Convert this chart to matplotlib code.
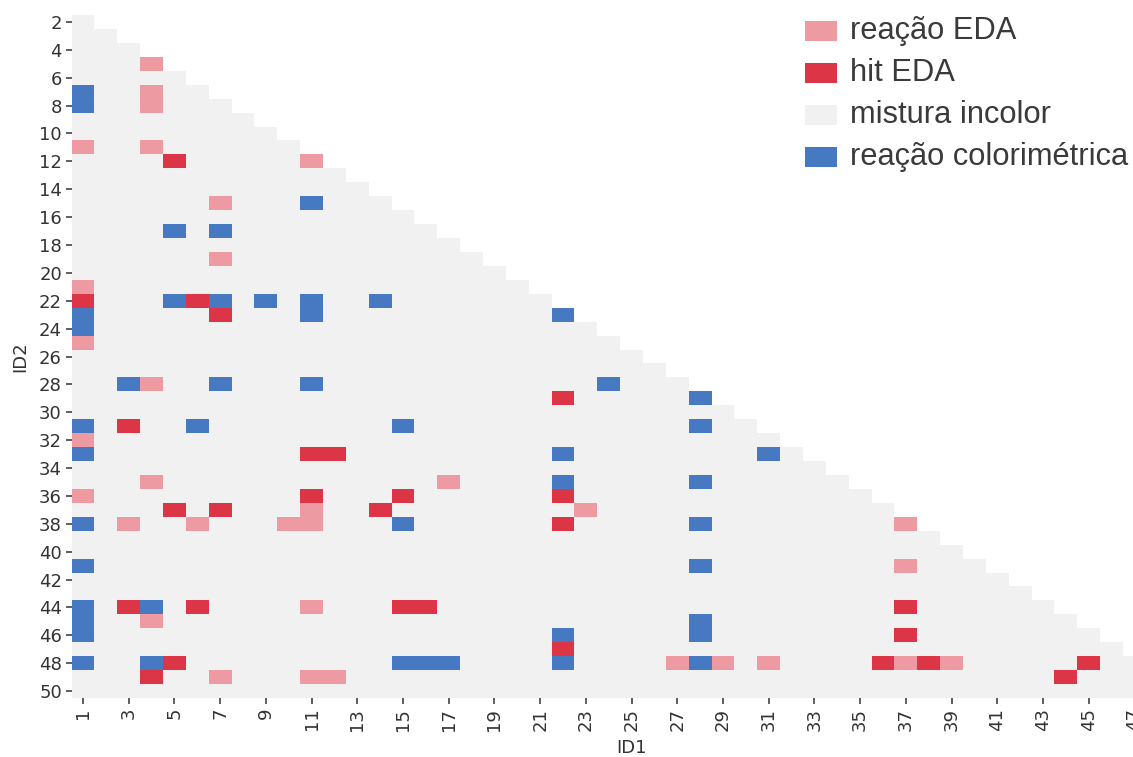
import numpy as np
import matplotlib
matplotlib.use("Agg")
import matplotlib.pyplot as plt
from matplotlib.colors import ListedColormap, BoundaryNorm
from matplotlib.patches import Rectangle

# Compound identifiers on each axis
id1 = np.arange(1, 50)   # columns (ID1)
id2 = np.arange(2, 51)   # rows (ID2)

# Pairs (ID1, ID2) per outcome of the mixture test
eda_reaction = [(4, 5), (4, 7), (4, 8), (1, 11), (4, 11), (11, 12), (7, 15), (7, 19),
                (1, 21), (1, 25), (4, 28), (1, 32), (4, 35), (17, 35), (1, 36), (11, 37),
                (23, 37), (3, 38), (6, 38), (10, 38), (11, 38), (37, 38), (37, 41),
                (11, 44), (4, 45), (27, 48), (29, 48), (31, 48), (37, 48), (39, 48),
                (7, 49), (11, 49), (12, 49)]
eda_hit = [(5, 12), (1, 22), (6, 22), (7, 23), (22, 29), (3, 31), (11, 33), (12, 33),
           (11, 36), (15, 36), (22, 36), (5, 37), (7, 37), (14, 37), (22, 38), (3, 44),
           (6, 44), (15, 44), (16, 44), (37, 44), (37, 46), (22, 47), (5, 48), (36, 48),
           (38, 48), (45, 48), (4, 49), (44, 49)]
colorimetric = [(1, 7), (1, 8), (11, 15), (5, 17), (7, 17), (5, 22), (7, 22), (9, 22),
                (11, 22), (14, 22), (1, 23), (11, 23), (22, 23), (1, 24), (3, 28), (7, 28),
                (11, 28), (24, 28), (28, 29), (1, 31), (6, 31), (15, 31), (28, 31), (1, 33),
                (22, 33), (31, 33), (22, 35), (28, 35), (1, 38), (15, 38), (28, 38), (1, 41),
                (28, 41), (1, 44), (4, 44), (1, 45), (28, 45), (1, 46), (22, 46), (28, 46),
                (1, 48), (4, 48), (15, 48), (16, 48), (17, 48), (22, 48), (28, 48)]

legend_labels = ["reação EDA", "hit EDA", "mistura incolor", "reação colorimétrica"]
legend_colors = ["#ED9AA2", "#DC3545", "#F1F1F1", "#4679C2"]

# Category codes: 0 colourless, 1 EDA reaction, 2 EDA hit, 3 colorimetric
grid = np.zeros((len(id2), len(id1)))
for code, pairs in ((1, eda_reaction), (2, eda_hit), (3, colorimetric)):
    for a, b in pairs:
        grid[b - id2[0], a - id1[0]] = code
mask = id1[None, :] >= id2[:, None]
data = np.ma.masked_array(grid, mask)

cmap = ListedColormap([legend_colors[2], legend_colors[0], legend_colors[1], legend_colors[3]])
norm = BoundaryNorm([-0.5, 0.5, 1.5, 2.5, 3.5], cmap.N)

W, H = 1133, 757
fig = plt.figure(figsize=(W / 100, H / 100), dpi=100)
fig.patch.set_facecolor("white")

def fx(px):
    return px / W

def fy(py):
    return 1 - py / H

ax = fig.add_axes([fx(71.6), fy(698), fx(1120), 683 / H])
x_edges = np.append(id1 - 0.5, id1[-1] + 0.5)
y_edges = np.append(id2 - 0.5, id2[-1] + 0.5)
ax.pcolormesh(x_edges, y_edges, data, cmap=cmap, norm=norm,
              antialiased=False, linewidth=0)
ax.set_xlim(x_edges[0], x_edges[-1])
ax.set_ylim(y_edges[-1], y_edges[0])
for s in ax.spines.values():
    s.set_visible(False)

tick_color = "#333333"
ax.set_xticks(id1[::2])
ax.set_xticklabels([str(v) for v in id1[::2]], rotation=90)
ax.set_yticks(id2[::2])
ax.set_yticklabels([str(v) for v in id2[::2]])
ax.tick_params(axis="both", labelsize=13, length=4, width=1.1, pad=3,
               color=tick_color, labelcolor=tick_color)
ax.set_xlabel("ID1", fontsize=13, color=tick_color, labelpad=6)
ax.set_ylabel("ID2", fontsize=13, color=tick_color, labelpad=7)

# Legend drawn as swatches with labels in the upper right corner
row_y = [31, 73, 115, 157]
for label, col, yc in zip(legend_labels, legend_colors, row_y):
    fig.add_artist(Rectangle((fx(805), fy(yc + 10)), fx(32), 20 / H,
                             transform=fig.transFigure, facecolor=col,
                             edgecolor="none"))
    fig.text(fx(850), fy(yc), label, fontsize=22.2, family="Liberation Sans",
             color="#3a3a3a", va="center", ha="left")

fig.savefig("out.png", dpi=100)
